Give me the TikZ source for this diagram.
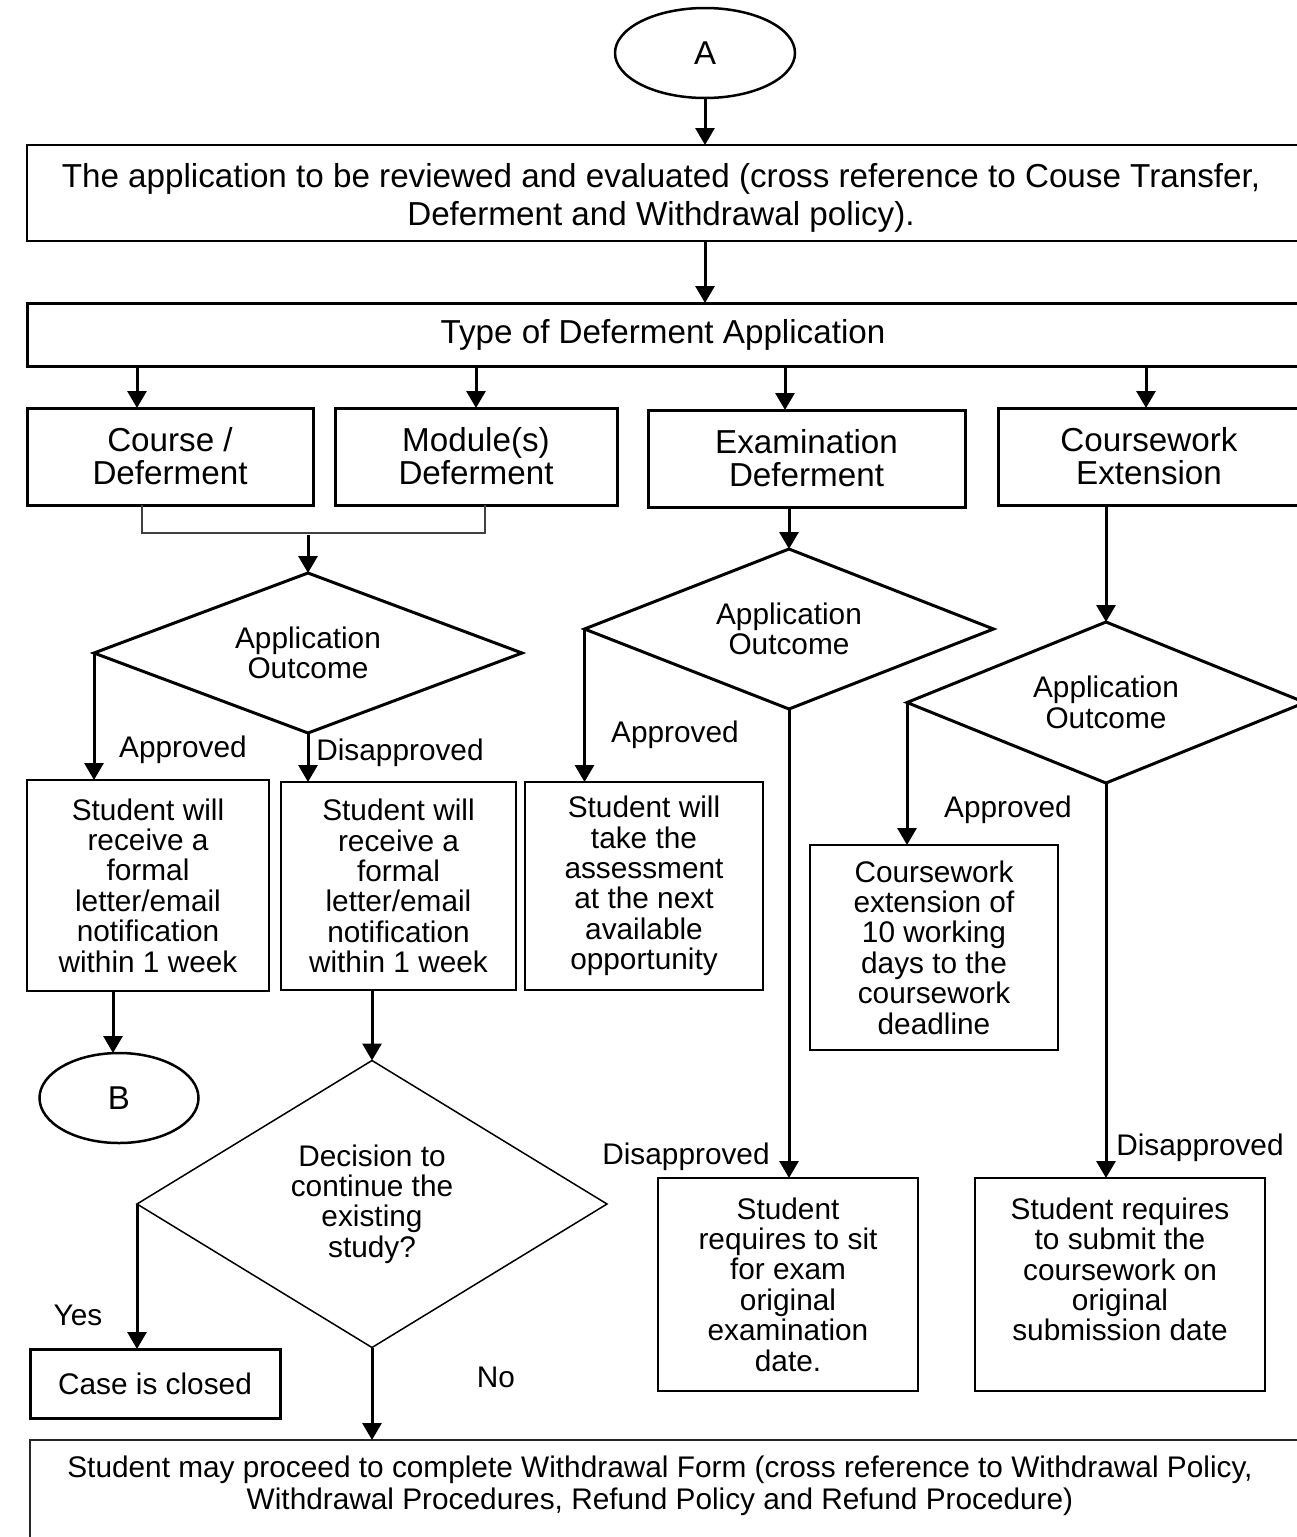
\documentclass[tikz,border=0pt]{standalone}
\usepackage{fontspec}
\setmainfont{Liberation Sans}
\usetikzlibrary{shapes.geometric,arrows.meta}

\begin{document}
\begin{tikzpicture}[x=1pt,y=-1pt,
  every node/.style={inner sep=0pt, outer sep=0pt},
  txt/.style={font=\fontsize{29.8}{30.4}\selectfont, align=center},
  head/.style={font=\fontsize{33.2}{33}\selectfont, align=center},
  bigtxt/.style={font=\fontsize{33.2}{38}\selectfont, align=center},
  thickbox/.style={draw, rectangle, line width=3pt},
  thinbox/.style={draw, rectangle, line width=1.5pt, txt},
  decision/.style={draw, diamond, line width=3pt, txt},
  terminal/.style={draw, ellipse, line width=2.5pt, font=\fontsize{33}{33}\selectfont},
  arr/.style={line width=3pt, -{Triangle[length=17pt,width=19pt]}},
  bracket/.style={line width=1.5pt, black!75},
  lbl/.style={txt}]

\useasboundingbox (0,0) rectangle (1297,1537);
\clip (0,0) rectangle (1297,1537);

% start connector and review step
\node[terminal, minimum width=180pt, minimum height=90pt] (A) at (705,53) {A};
\node[draw, rectangle, line width=1.5pt, minimum width=1272pt, minimum height=96pt] (rev) at (663,193) {};
\node[bigtxt] (revtext) at (661,198)
  {The application to be reviewed and evaluated (cross reference to Couse Transfer,\\Deferment and Withdrawal policy).};
\node[thickbox, head, minimum width=1272pt, minimum height=63pt] (type) at (663,334.5) {Type of Deferment Application};

\draw[arr] (A.south) -- (A.south |- rev.north);
\draw[arr] (rev.south -| A.south) -- (type.north -| A.south);

% application types
\node[thickbox, head, minimum width=286pt, minimum height=97pt] (course) at (170,456.5) {Course /\\Deferment};
\node[thickbox, head, minimum width=282pt, minimum height=97pt] (module) at (476,456.5) {Module(s)\\Deferment};
\node[thickbox, head, minimum width=317pt, minimum height=97pt] (exam) at (806.5,458.5) {Examination\\Deferment};
\node[thickbox, head, minimum width=302pt, minimum height=97pt] (cw) at (1149,456.5) {Coursework\\Extension};

\draw[arr] ([xshift=-33pt]course.north |- type.south) -- ([xshift=-33pt]course.north);
\draw[arr] (module.north |- type.south) -- (module.north);
\draw[arr] ([xshift=-21.5pt]exam.north |- type.south) -- ([xshift=-21.5pt]exam.north);
\draw[arr] ([xshift=-3pt]cw.north |- type.south) -- ([xshift=-3pt]cw.north);

% course / module branch
\draw[bracket] ([xshift=-28pt]course.south) -- ++(0,28) -| ([xshift=9pt]module.south);
\coordinate (join) at (308,535);
\node[decision, aspect=2.675, minimum width=428pt, minimum height=160pt] (d1) at (308,653) {Application\\Outcome};
\draw[arr] (d1.north |- join) -- (d1.north);

\node[thinbox, minimum width=242pt, minimum height=211pt] (r1) at (148,885.5)
  {Student will\\receive a\\formal\\letter/email\\notification\\within 1 week};
\node[thinbox, minimum width=235pt, minimum height=208pt] (r2) at (398.5,886)
  {Student will\\receive a\\formal\\letter/email\\notification\\within 1 week};
\draw[arr] (d1.west) -- (d1.west |- r1.north);
\draw[arr] (d1.south) -- (d1.south |- r2.north);
\node[lbl] (lapp1) at (183,750) {Approved};
\node[lbl] (ldis1) at (400,753) {Disapproved};

\node[terminal, minimum width=159pt, minimum height=90pt] (B) at (119,1098) {B};
\draw[arr] ([xshift=-6pt]r1.south -| B.north) -- ([xshift=-6pt]B.north);

\node[decision, line width=1.5pt, aspect=1.64, minimum width=470pt, minimum height=287pt] (d2) at (372,1204)
  {Decision to\\continue the\\existing\\study?};
\draw[arr] (r2.south -| d2.north) -- (d2.north);

\node[thickbox, txt, minimum width=250pt, minimum height=69pt] (case) at (155,1383.5) {Case is closed};
\draw[arr] (d2.west) -- (d2.west |- case.north);
\node[lbl] (lyes) at (78,1315) {Yes};

\node[draw, rectangle, line width=2pt, black!85, minimum width=1280pt, minimum height=110pt] (fin) at (670,1495) {};
\node[txt, font=\fontsize{29.8}{32}\selectfont] (fintext) at (660,1486)
  {Student may proceed to complete Withdrawal Form (cross reference to Withdrawal Policy,\\Withdrawal Procedures, Refund Policy and Refund Procedure)};
\draw[arr] (d2.south) -- (d2.south |- fin.north);
\node[lbl] (lno) at (496,1377) {No};

% examination branch
\node[decision, aspect=2.556, minimum width=409pt, minimum height=160pt] (d3) at (789,629) {Application\\Outcome};
\draw[arr] (exam.south -| d3.north) -- (d3.north);
\node[thinbox, minimum width=238pt, minimum height=208pt] (take) at (644,886)
  {Student will\\take the\\assessment\\at the next\\available\\opportunity};
\draw[arr] (d3.west) -- (d3.west |- take.north);
\node[lbl] (lapp3) at (675,735) {Approved};
\node[thinbox, minimum width=260pt, minimum height=213pt] (sit) at (788,1284.5)
  {Student\\requires to sit\\for exam\\original\\examination\\date.};
\draw[arr] (d3.south) -- (d3.south |- sit.north);
\node[lbl] (ldis3) at (686,1157) {Disapproved};

% coursework branch
\node[decision, aspect=2.472, minimum width=398pt, minimum height=161pt] (d4) at (1106,702.5) {Application\\Outcome};
\draw[arr] (cw.south -| d4.north) -- (d4.north);
\node[thinbox, minimum width=248pt, minimum height=205pt] (ext) at (934,947.5)
  {Coursework\\extension of\\10 working\\days to the\\coursework\\deadline};
\draw[arr] (d4.west) -- (d4.west |- ext.north);
\node[lbl] (lapp4) at (1008,810) {Approved};
\node[thinbox, minimum width=290pt, minimum height=213pt] (sub) at (1120,1284.5)
  {Student requires\\to submit the\\coursework on\\original\\submission date\\\mbox{}};
\draw[arr] (d4.south) -- (d4.south |- sub.north);
\node[lbl] (ldis4) at (1200,1148) {Disapproved};

\end{tikzpicture}
\end{document}
